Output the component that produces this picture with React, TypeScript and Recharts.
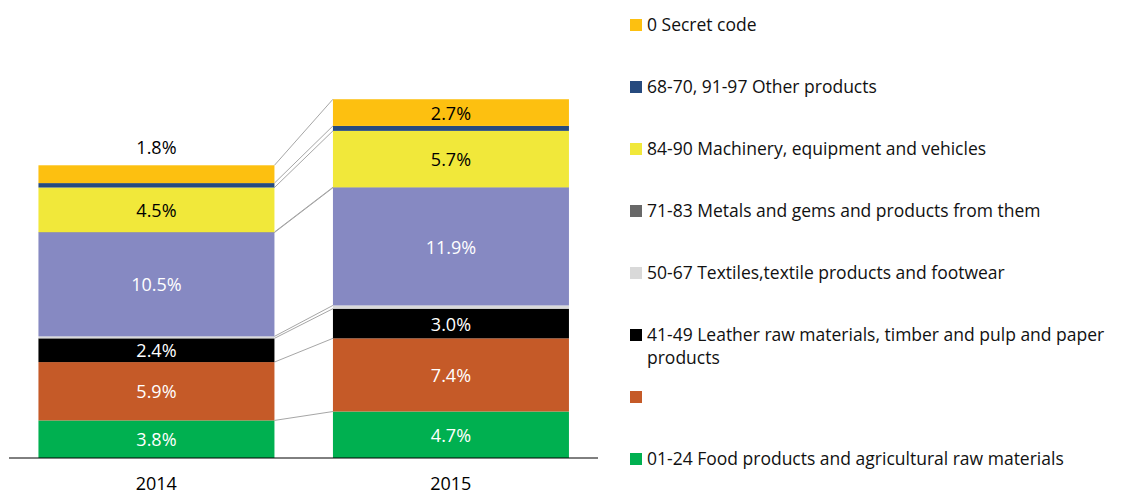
import { Bar, BarChart, LabelList, Legend, XAxis, YAxis } from "recharts";

// values in %
const years = ["2014", "2015"];
const food = [3.8, 4.7];
const unnamed = [5.9, 7.4];
const leather = [2.4, 3.0];
const textiles = [0.2, 0.33];
const mineral = [10.5, 11.9];
const metals = [0.05, 0.05];
const machinery = [4.5, 5.7];
const other = [0.45, 0.5];
const secret = [1.8, 2.7];

// bottom -> top of the stack
const series = [
  { key: "food", name: "01-24 Food products and agricultural raw materials", values: food, color: "#00B050", text: "#fff", label: true },
  { key: "unnamed", name: "", values: unnamed, color: "#C55A28", text: "#fff", label: true },
  { key: "leather", name: "41-49 Leather raw materials, timber and pulp and paper products", values: leather, color: "#000000", text: "#fff", label: true },
  { key: "textiles", name: "50-67 Textiles,textile products and footwear", values: textiles, color: "#D9D9D9", text: "#000", label: false },
  { key: "mineral", name: "mineral", values: mineral, color: "#8689C2", text: "#fff", label: true },
  { key: "metals", name: "71-83 Metals and gems and products from them", values: metals, color: "#686868", text: "#fff", label: false },
  { key: "machinery", name: "84-90 Machinery, equipment and vehicles", values: machinery, color: "#F1E83A", text: "#000", label: true },
  { key: "other", name: "68-70, 91-97 Other products", values: other, color: "#264A7E", text: "#fff", label: false },
  { key: "secret", name: "0 Secret code", values: secret, color: "#FDC010", text: "#000", label: true },
];

const legendOrder = ["secret", "other", "machinery", "metals", "textiles", "leather", "unnamed", "food"];

const data = years.map((year, i) => {
  const row: Record<string, number | string> = { year };
  series.forEach((s) => (row[s.key] = s.values[i]));
  return row;
});

const FONT = "'Open Sans', 'Noto Sans', sans-serif";

// top-right corner of each series' 2014 segment, so the 2015 segment can draw the series line
const prevCorner: Record<string, { x: number; y: number }> = {};

function makeShape(key: string) {
  return (props: any) => {
    const { x, y, width, height, fill, index } = props;
    let line = null;
    if (index === 0) {
      prevCorner[key] = { x: x + width, y };
    } else if (prevCorner[key]) {
      const p = prevCorner[key];
      line = <line x1={p.x} y1={p.y} x2={x} y2={y} stroke="#A6A6A6" strokeWidth={1} />;
    }
    return (
      <g>
        <rect x={x} y={y} width={width} height={Math.max(height, 0)} fill={fill} />
        {line}
      </g>
    );
  };
}

function makeLabel(color: string) {
  return (props: any) => {
    const vb = props.viewBox ?? props;
    const { x, y, width, height } = vb;
    const v = Number(props.value);
    const small = Math.abs(height) < 22;
    return (
      <text
        x={x + width / 2}
        y={small ? y - 18 : y + height / 2}
        textAnchor="middle"
        dominantBaseline="central"
        fill={small ? "#000" : color}
        fontSize={18}
        fontFamily={FONT}
      >
        {v.toFixed(1)}%
      </text>
    );
  };
}

function LegendBox() {
  return (
    <div style={{ fontFamily: FONT, fontSize: 17.5, color: "#111" }}>
      {legendOrder.map((key) => {
        const s = series.find((d) => d.key === key)!;
        return (
          <div key={key} style={{ height: 62, display: "flex", alignItems: "flex-start" }}>
            <span
              style={{
                width: 12,
                height: 12,
                background: s.color,
                marginTop: 6,
                marginRight: 5,
                flex: "0 0 auto",
              }}
            />
            <span style={{ lineHeight: "23px", width: 500 }}>{s.name}</span>
          </div>
        );
      })}
    </div>
  );
}

export default function App() {
  return (
    <div style={{ fontFamily: FONT }}>
      <BarChart
        width={1113}
        height={482}
        data={data}
        barCategoryGap="10%"
        margin={{ top: 5, right: 523, left: 1, bottom: 2 }}
      >
        <XAxis
          dataKey="year"
          tickLine={false}
          axisLine={{ stroke: "#000", strokeWidth: 1 }}
          tick={{ fill: "#000", fontSize: 18, fontFamily: FONT }}
          tickMargin={13}
          height={30}
        />
        <YAxis domain={[0, 45]} hide />
        {series.map((s) => (
          <Bar
            key={s.key}
            dataKey={s.key}
            name={s.name}
            stackId="a"
            fill={s.color}
            shape={makeShape(s.key)}
            isAnimationActive={false}
          >
            {s.label && <LabelList dataKey={s.key} content={makeLabel(s.text)} />}
          </Bar>
        ))}
        <Legend
          layout="vertical"
          align="center"
          verticalAlign="middle"
          wrapperStyle={{ left: 622, top: 5, width: 520, height: "auto" }}
          content={() => <LegendBox />}
        />
      </BarChart>
    </div>
  );
}
